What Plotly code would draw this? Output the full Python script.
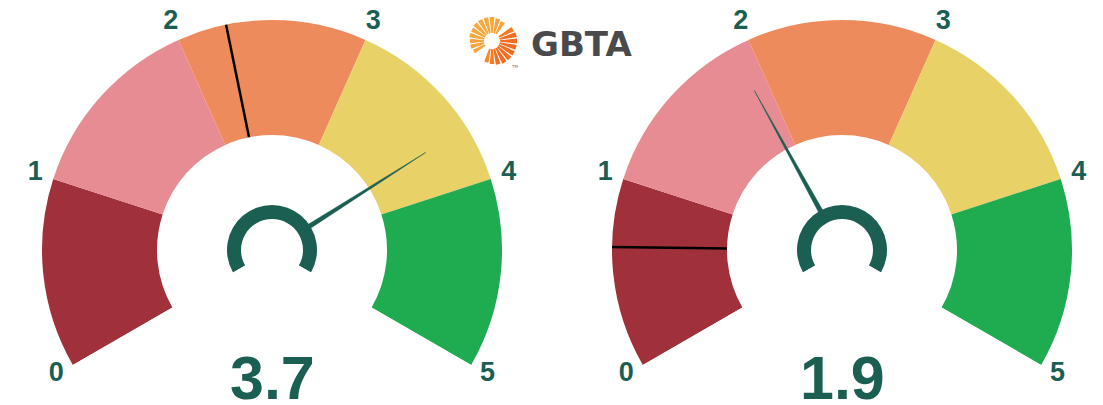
import plotly.graph_objects as go

# ---------------- data ----------------
band_labels = ["0-1", "1-2", "2-3", "3-4", "4-5"]
band_colors = ["#a0313a", "#e78c93", "#ed8b5d", "#e8d167", "#1fab50"]
scale_ticks = [0, 1, 2, 3, 4, 5]
tick_text = ["0", "1", "2", "3", "4", "5"]

gauge_values = [3.7, 1.9]          # needle value of each gauge
gauge_markers = [2.26, 0.64]       # black marker line of each gauge
value_text = ["3.7", "1.9"]

# logo spikes (decoration)
logo_angles = [0, 15, 30, 60, 75, 90, 105, 120, 135, 150, 165, 180, 195, 210,
               255, 270, 285, 300, 315, 330, 345]
logo_len = [17, 17, 16, 14, 15, 16, 16, 16, 16, 15, 15, 14, 14, 13,
            14, 15, 16, 17, 17, 17, 17]
logo_cols = ["#f36b21", "#f36b21", "#f47a23", "#f7a23a", "#f7a23a", "#f8a83c",
             "#f8a83c", "#f8a83c", "#f8a83c", "#f8a83c", "#f8a83c", "#f7a23a",
             "#f7a23a", "#f7a23a", "#f58a2b", "#f47c25", "#f36f21", "#f36b21",
             "#f36b21", "#f36b21", "#f36b21"]

# ---------------- geometry / style ----------------
W, H = 1103, 405
DEG_PER_UNIT = 48          # 240 degree arc over 5 units
R_MAX = 250                # radial range (room for tick labels)
R_OUT, R_IN = 230, 115
R_LABEL = 249
centers_px = [272, 842]
cy_px = 250
DARK = "#1b5e52"

fig = go.Figure()

polar_names = ["polar", "polar2"]
for gi, (val, mark) in enumerate(zip(gauge_values, gauge_markers)):
    sp = polar_names[gi]
    # colored bands
    fig.add_trace(go.Barpolar(
        r=[R_OUT - R_IN] * len(band_labels),
        base=[R_IN] * len(band_labels),
        theta=[(i + 0.5) * DEG_PER_UNIT for i in range(len(band_labels))],
        width=[DEG_PER_UNIT] * len(band_labels),
        marker=dict(color=band_colors, line=dict(width=0)),
        text=band_labels, hoverinfo="text",
        subplot=sp, showlegend=False))
    # marker line
    fig.add_trace(go.Scatterpolar(
        r=[R_IN, R_OUT], theta=[mark * DEG_PER_UNIT] * 2,
        mode="lines", line=dict(color="#000000", width=2.5),
        subplot=sp, showlegend=False, hoverinfo="skip"))
    # needle
    t = val * DEG_PER_UNIT
    fig.add_trace(go.Scatterpolar(
        r=[38, 182, 38, 38], theta=[t - 3.6, t, t + 3.6, t - 3.6],
        mode="lines", fill="toself", fillcolor=DARK,
        line=dict(color=DARK, width=0.5),
        subplot=sp, showlegend=False, hoverinfo="skip"))
    # center "C" hub
    fig.add_trace(go.Barpolar(
        r=[14], base=[31], theta=[2.5 * DEG_PER_UNIT], width=[5 * DEG_PER_UNIT],
        marker=dict(color=DARK, line=dict(width=0)),
        subplot=sp, showlegend=False, hoverinfo="skip"))
    # tick labels
    fig.add_trace(go.Scatterpolar(
        r=[R_LABEL] * len(scale_ticks),
        theta=[v * DEG_PER_UNIT for v in scale_ticks],
        text=tick_text, mode="text",
        textfont=dict(family="Liberation Sans, Arial", size=27, color=DARK, weight="bold"),
        textposition="middle center", cliponaxis=False,
        subplot=sp, showlegend=False, hoverinfo="skip"))
    # big value
    fig.add_annotation(
        x=centers_px[gi] / W, y=1 - 378 / H, xref="paper", yref="paper",
        text=value_text[gi], showarrow=False, xanchor="center", yanchor="middle",
        font=dict(family="Liberation Sans, Arial", size=61, color=DARK, weight="bold"))

# logo spikes
fig.add_trace(go.Barpolar(
    r=logo_len, base=[8] * len(logo_len), theta=logo_angles,
    width=[11.5] * len(logo_len),
    marker=dict(color=logo_cols, line=dict(width=0)),
    subplot="polar3", showlegend=False, hoverinfo="skip"))

fig.add_annotation(x=581 / W, y=1 - 44 / H, xref="paper", yref="paper",
                   text="GBTA", showarrow=False, xanchor="center", yanchor="middle",
                   font=dict(family="DejaVu Sans", size=34, color="#4a4a4c", weight="bold"))
fig.add_annotation(x=514 / W, y=1 - 67 / H, xref="paper", yref="paper",
                   text="TM", showarrow=False, xanchor="center", yanchor="middle",
                   font=dict(family="DejaVu Sans", size=4, color="#777777"))


def gauge_polar(cx):
    return dict(
        domain=dict(x=[(cx - R_MAX) / W, (cx + R_MAX) / W],
                    y=[1 - (cy_px + R_MAX / 2) / H, 1 - (cy_px - R_MAX) / H]),
        sector=[-30, 210],
        bgcolor="rgba(0,0,0,0)",
        radialaxis=dict(range=[0, R_MAX], visible=False),
        angularaxis=dict(visible=False, rotation=210, direction="clockwise",
                         thetaunit="degrees"),
        barmode="overlay",
    )


fig.update_layout(
    width=W, height=H,
    margin=dict(l=0, r=0, t=0, b=0),
    paper_bgcolor="white", plot_bgcolor="white",
    polar=gauge_polar(centers_px[0]),
    polar2=gauge_polar(centers_px[1]),
    polar3=dict(
        domain=dict(x=[(492 - 26) / W, (492 + 26) / W], y=[1 - 67 / H, 1 - 15 / H]),
        bgcolor="rgba(0,0,0,0)",
        radialaxis=dict(range=[0, 26], visible=False),
        angularaxis=dict(visible=False),
    ),
    showlegend=False,
)

fig.write_html("out.html", config={"displayModeBar": False},
               post_script="document.body.style.margin='0';")
